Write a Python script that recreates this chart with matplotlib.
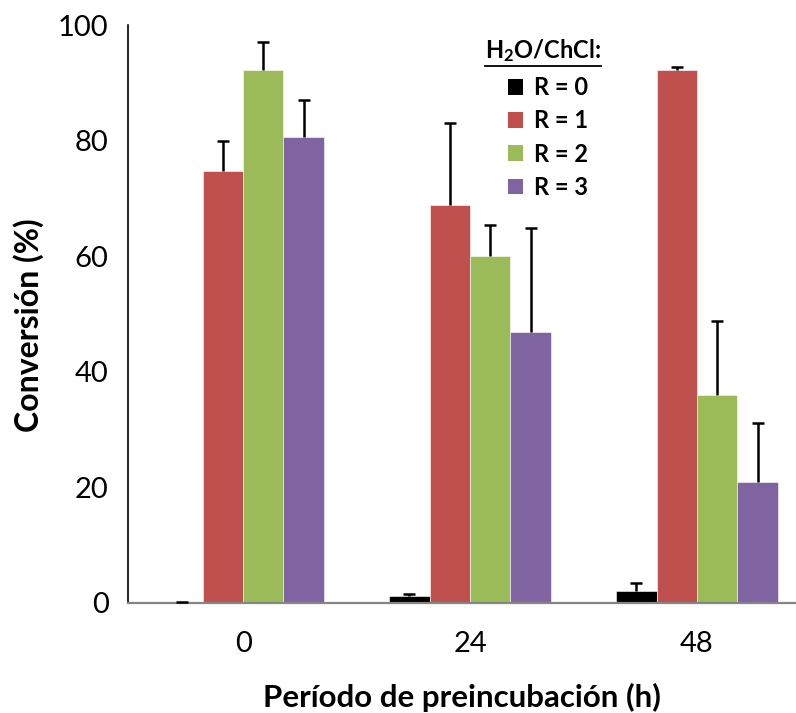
import numpy as np
import matplotlib.pyplot as plt
from matplotlib.lines import Line2D
from matplotlib.patches import Patch

plt.rcParams['font.family'] = ['Lato', 'DejaVu Sans']
plt.rcParams['mathtext.fontset'] = 'custom'
plt.rcParams['mathtext.rm'] = 'Lato'
plt.rcParams['mathtext.bf'] = 'Lato:bold'

periods = ["0", "24", "48"]
ratios = ["R = 0", "R = 1", "R = 2", "R = 3"]
colors = ["#000000", "#C0504D", "#9BBB59", "#8064A2"]

# conversion (%) per ratio, one value per preincubation period
conv_r0 = [0.1, 1.2, 2.1]
conv_r1 = [74.8, 68.9, 92.3]
conv_r2 = [92.3, 60.1, 35.9]
conv_r3 = [80.6, 46.9, 20.9]

# upper error bars
err_r0 = [0.15, 0.3, 1.4]
err_r1 = [5.2, 14.2, 0.5]
err_r2 = [4.7, 5.3, 12.9]
err_r3 = [6.4, 18.0, 10.3]

values = [conv_r0, conv_r1, conv_r2, conv_r3]
errors = [err_r0, err_r1, err_r2, err_r3]

fig = plt.figure(figsize=(7.96, 7.13), dpi=100)
ax = fig.add_axes([0.1608, 0.1543, 0.8392, 0.8106])

x = np.arange(len(periods))
width = 0.178
offsets = (np.arange(len(ratios)) - 1.5) * width

for i in range(len(ratios)):
    ax.bar(x + offsets[i], values[i], width, color=colors[i],
           edgecolor="white", linewidth=0.4, zorder=2)
    eb = ax.errorbar(x + offsets[i], values[i],
                     yerr=[np.zeros(len(periods)), errors[i]],
                     fmt="none", ecolor="black", elinewidth=1.8,
                     capsize=4.5, capthick=1.8, zorder=3)
    # only the upper cap is wanted
    eb[1][0].set_visible(False)

ax.set_xlim(-0.507, 2.436)
ax.set_ylim(0, 100)
ax.set_yticks([0, 20, 40, 60, 80, 100])
ax.set_xticks(x)
ax.set_xticklabels(periods)

ax.tick_params(axis="y", length=0, pad=14, labelsize=21)
ax.tick_params(axis="x", length=0, pad=20, labelsize=21)

ax.spines["top"].set_visible(False)
ax.spines["right"].set_visible(False)
ax.spines["left"].set_linewidth(1.2)
ax.spines["bottom"].set_color("#858585")
ax.spines["bottom"].set_linewidth(1.6)

ax.set_ylabel("Conversión (%)", fontsize=23, fontweight="bold")
ax.yaxis.set_label_coords(-0.125, 0.48)
ax.set_xlabel("Período de preincubación (h)", fontsize=22.5,
              fontweight="bold", labelpad=19)

handles = [Patch(facecolor=c, edgecolor="none") for c in colors]
leg = ax.legend(handles, ratios, loc="upper left",
                bbox_to_anchor=(0.537, 0.948), frameon=False,
                prop={"weight": "bold", "size": 17},
                handlelength=0.65, handleheight=0.65, handletextpad=0.45,
                labelspacing=0.43)

title = fig.text(0.609, 0.918, r"$\mathbf{H_2O/ChCl}$:", fontsize=17,
                 fontweight="bold", ha="left", va="baseline")

# underline the legend title
fig.canvas.draw()
bb = title.get_window_extent().transformed(fig.transFigure.inverted())
fig.add_artist(Line2D([bb.x0, bb.x1], [bb.y0 - 0.002, bb.y0 - 0.002],
                      transform=fig.transFigure, color="black", linewidth=1.3))

fig.savefig("out.png", dpi=100)
